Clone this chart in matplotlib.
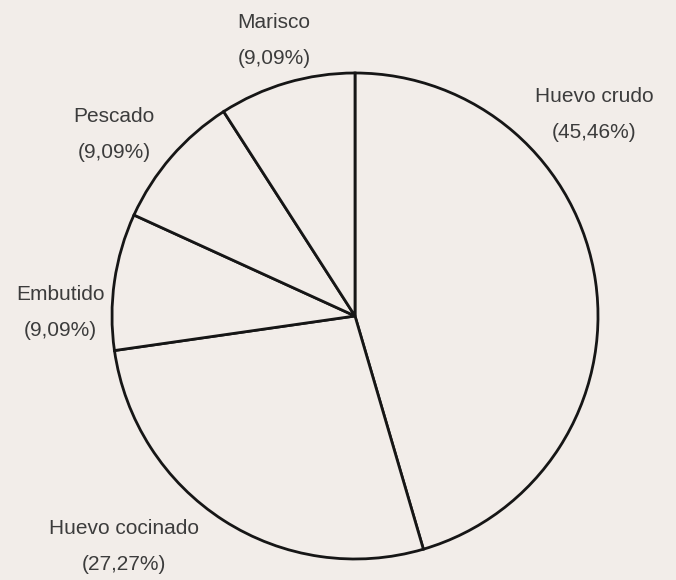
import matplotlib.pyplot as plt

# slices, clockwise from the top
categories = ["Huevo crudo", "Huevo cocinado", "Embutido", "Pescado", "Marisco"]
shares = [45.46, 27.27, 9.09, 9.09, 9.09]
share_labels = ["(45,46%)", "(27,27%)", "(9,09%)", "(9,09%)", "(9,09%)"]

# label anchor in pixels (x, y from top) for each category
label_pos = [(594, 96), (124, 529), (60, 294), (114, 117), (274, 23)]

W, H = 676, 580
bg = "#f2ede9"

fig = plt.figure(figsize=(W / 100, H / 100), dpi=100, facecolor=bg)
ax = fig.add_axes([0, 0, 1, 1])
ax.set_facecolor(bg)

ax.pie(shares, startangle=90, counterclock=False,
       center=(355, H - 316), radius=243,
       colors=[bg] * len(shares),
       wedgeprops=dict(edgecolor="#161616", linewidth=2.0),
       frame=True)
ax.set_xlim(0, W)
ax.set_ylim(0, H)
ax.set_aspect("equal")
ax.axis("off")

font = ["Liberation Sans", "DejaVu Sans"]
for name, pct, (x, y) in zip(categories, share_labels, label_pos):
    ax.text(x, H - y, name, ha="center", va="center", fontsize=15,
            color="#3c3c3c", family=font)
    ax.text(x, H - y - 36, pct, ha="center", va="center", fontsize=15,
            color="#3c3c3c", family=font)

fig.savefig("out.png", dpi=100, facecolor=bg)
